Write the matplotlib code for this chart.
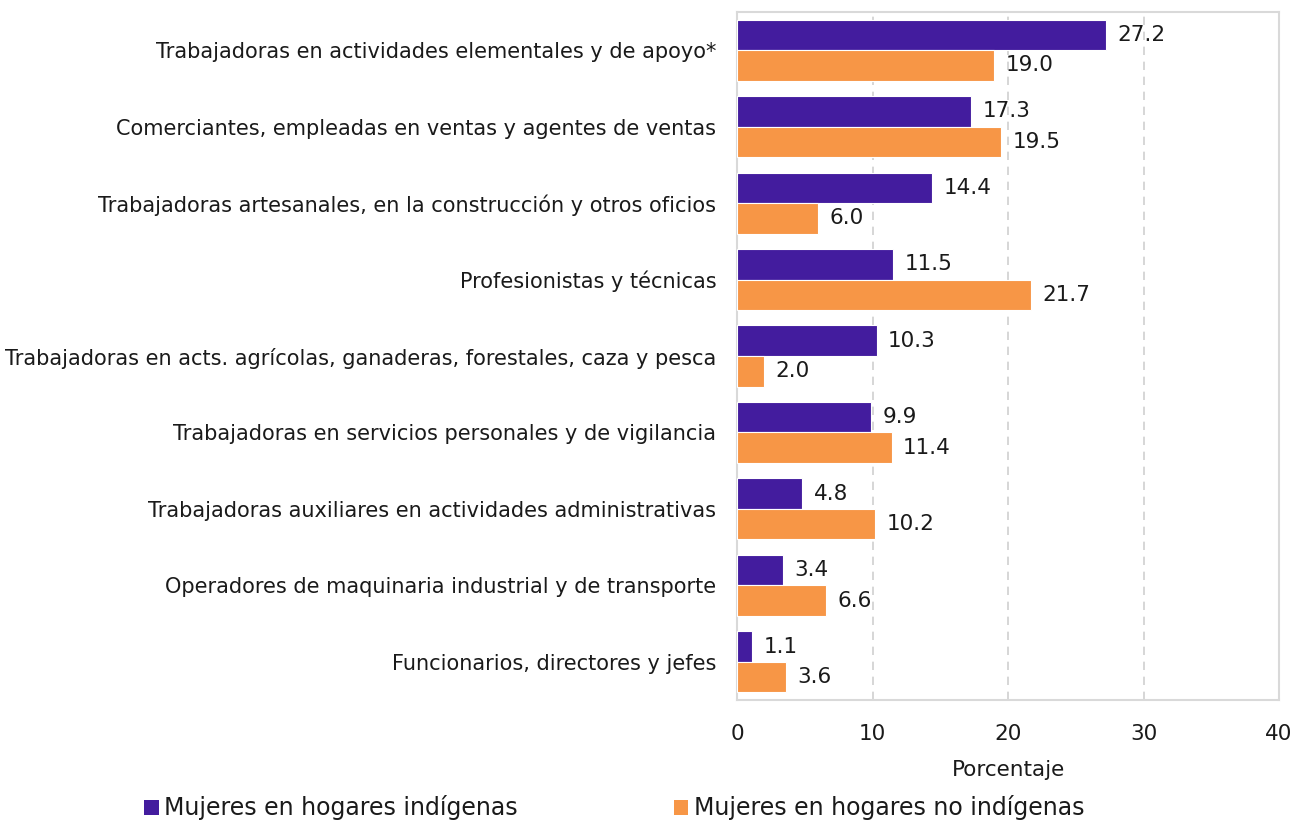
import matplotlib
matplotlib.use("Agg")
import matplotlib.pyplot as plt
import numpy as np
from matplotlib.patches import Patch

categories = [
    "Trabajadoras en actividades elementales y de apoyo*",
    "Comerciantes, empleadas en ventas y agentes de ventas",
    "Trabajadoras artesanales, en la construcción y otros oficios",
    "Profesionistas y técnicas",
    "Trabajadoras en acts. agrícolas, ganaderas, forestales, caza y pesca",
    "Trabajadoras en servicios personales y de vigilancia",
    "Trabajadoras auxiliares en actividades administrativas",
    "Operadores de maquinaria industrial y de transporte",
    "Funcionarios, directores y jefes",
]
indigenas = [27.2, 17.3, 14.4, 11.5, 10.3, 9.9, 4.8, 3.4, 1.1]
no_indigenas = [19.0, 19.5, 6.0, 21.7, 2.0, 11.4, 10.2, 6.6, 3.6]
series_names = ["Mujeres en hogares indígenas", "Mujeres en hogares no indígenas"]
xticks = [0, 10, 20, 30, 40]

PURPLE = "#431C9E"
ORANGE = "#F79646"
TXT = "#1a1a1a"

plt.rcParams['font.family'] = ['DejaVu Sans']
fs = 15

fig = plt.figure(figsize=(12.96, 8.26), dpi=100)
ax = fig.add_axes([0.5687, 0.1525, 0.4182, 0.833])

y = np.arange(len(categories))
h = 0.4
ax.barh(y - h/2, indigenas, height=h, color=PURPLE, edgecolor="white", linewidth=0.8, zorder=3)
ax.barh(y + h/2, no_indigenas, height=h, color=ORANGE, edgecolor="white", linewidth=0.8, zorder=3)

for yi, v in zip(y, indigenas):
    ax.text(v + 0.85, yi - h/2, f"{v:.1f}", va="center", ha="left", fontsize=15.5, color=TXT, zorder=4)
for yi, v in zip(y, no_indigenas):
    ax.text(v + 0.85, yi + h/2, f"{v:.1f}", va="center", ha="left", fontsize=15.5, color=TXT, zorder=4)

ax.set_ylim(len(categories) - 0.5, -0.5)
ax.set_xlim(0, 40)
ax.set_xticks(xticks)
ax.set_yticks(y)
ax.set_yticklabels(categories, fontsize=fs, color=TXT)
ax.tick_params(axis="x", labelsize=15.5, colors=TXT, length=0, pad=17)
ax.tick_params(axis="y", length=0, pad=15)
for lbl in ax.get_xticklabels():
    lbl.set_color(TXT)
ax.xaxis.grid(True, color="#D0D0D0", linestyle=(0, (5, 4)), linewidth=1.2, zorder=0)
ax.set_axisbelow(True)
for s in ax.spines.values():
    s.set_color("#D9D9D9")
    s.set_linewidth(1.5)
ax.set_xlabel("Porcentaje", fontsize=15.5, color=TXT, labelpad=12)

handles = [Patch(facecolor=PURPLE), Patch(facecolor=ORANGE)]
fig.legend(handles, series_names, loc="center left", bbox_to_anchor=(0.095, 0.022),
           ncol=2, frameon=False, fontsize=17, handlelength=0.6, handleheight=0.6,
           handletextpad=0.25, columnspacing=6.6, labelcolor=TXT)

fig.savefig("out.png", dpi=100)
